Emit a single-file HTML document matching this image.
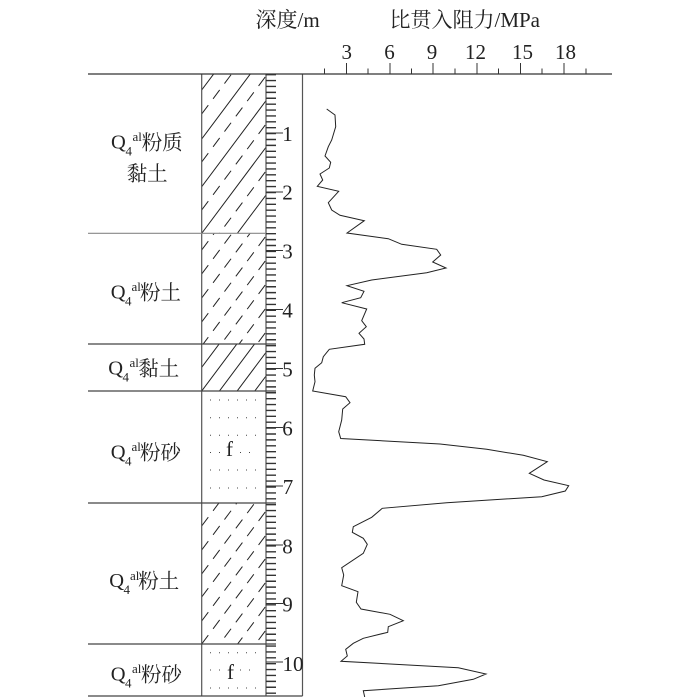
<!DOCTYPE html>
<html><head><meta charset="utf-8"><style>
html,body{margin:0;padding:0;background:#fff}
svg{display:block}
text{font-family:"Liberation Serif","Noto Serif CJK SC",serif;fill:#222;font-size:20.5px}
.n{font-size:21px;text-anchor:middle}
.s{font-size:13px}
</style></head><body>
<svg width="700" height="697" viewBox="0 0 700 697" xmlns="http://www.w3.org/2000/svg">
<defs>
<clipPath id="c1"><rect x="202" y="74" width="64" height="159"/></clipPath>
<clipPath id="c2"><rect x="202" y="233" width="64" height="111"/></clipPath>
<clipPath id="c3"><rect x="202" y="344" width="64" height="47"/></clipPath>
<clipPath id="c4"><rect x="202" y="503" width="64" height="141"/></clipPath>
</defs>
<g fill="none" stroke="#222" stroke-width="1">
<g clip-path="url(#c1)">
<path d="M201.7 90l64.3-86M201.7 139l64.3-86M201.7 186.7l64.3-86M201.7 233.3l64.3-86M201.7 281l64.3-86"/>
<path stroke-dasharray="11 8" d="M201.7 114l64.3-86M201.7 162l64.3-86M201.7 210l64.3-86M201.7 257l64.3-86"/>
</g>
<g clip-path="url(#c2)" stroke-dasharray="11 8">
<path d="M201.7 250l64.3-86M201.7 274l64.3-86M201.7 298l64.3-86M201.7 322l64.3-86M201.7 346l64.3-86M201.7 370l64.3-86M201.7 394l64.3-86M201.7 418l64.3-86"/>
</g>
<g clip-path="url(#c3)">
<path d="M201.7 367.3l64.3-86M201.7 391l64.3-86M201.7 414.7l64.3-86M201.7 438.4l64.3-86M201.7 462l64.3-86"/>
</g>
<g clip-path="url(#c4)" stroke-dasharray="11 8">
<path d="M201.7 526l64.3-86M201.7 550l64.3-86M201.7 574l64.3-86M201.7 597l64.3-86M201.7 621l64.3-86M201.7 644l64.3-86M201.7 668l64.3-86M201.7 692l64.3-86M201.7 716l64.3-86"/>
</g>
</g>
<g stroke="#555" fill="none" stroke-width="1.2">
<path d="M201.7 74V696M266 74V696M302.5 74V696"/>
<path d="M88 74H612" stroke="#333"/>
<path d="M88 233.3H266" stroke="#888"/>
<path d="M88 344H276M88 391H276M88 503H276M88 644H276M88 696H302.5" stroke="#444"/>
</g>
<path d="M271 74V696" stroke="#333" stroke-width="10" stroke-dasharray="1.4 4.49" fill="none"/>
<path d="M266 133H283M266 192H283M266 250.5H283M266 309.5H283M266 368.5H283M266 427.5H283M266 486H283M266 545H283M266 603.5H283M266 662H283" stroke="#333" fill="none"/>
<path d="M324.5 68.5V74M346.5 63V74M368 68.5V74M390 63V74M411.5 68.5V74M433 63V74M455 68.5V74M477 63V74M498.5 68.5V74M520.5 63V74M542 68.5V74M564 63V74M586 68.5V74" stroke="#333" fill="none"/>
<polyline fill="none" stroke="#222" stroke-width="1" points="326.7,109 335,115 335.7,126.7 331.7,140 328.3,146.7 325,156 330.7,162.3 329.3,168 320,174 322.7,180 317.3,186.3 338.7,191.3 328.3,202.7 331.7,210 340,215.3 364.3,220.7 347,233 388.3,238.7 401.7,244.3 436.7,249.3 440.7,255 432.7,262 446,268 426.7,272.7 371.7,280 347,285.7 364,291.3 360.7,297.7 341.7,302.7 366.7,309 361.7,320.7 366.3,326.7 359,333.3 364,339 364.7,344.3 329.3,349.3 323.3,356.7 321.7,362.7 315,368.3 314.3,375 315,381.7 312.7,391 345.7,396.7 350,402.7 342.7,409 341.7,420 338.7,431.7 340.7,438.5 440,444 486.7,449.3 523.3,455.3 547.3,461.7 529.3,473.3 544,480 568.7,485.7 565.3,491 541.7,496.7 446.7,502.7 382.3,508.3 371.7,517.3 353.3,526.7 352.3,532.3 363.3,538.3 367.3,544.3 363.3,553.3 341.7,567.7 343.7,575 341.7,585.7 358,591.7 356.3,602.3 361,609 390,614.3 403.3,620.7 388.3,626.7 387.7,632.3 363.3,638.3 353.3,643.3 345.7,649.3 347.3,656 341,661.3 458.3,667.7 486,674 473.3,679.3 438.3,685.7 363.3,690.7 364.7,697"/>
<path d="M210 400H256M210 417.7H256M210 435.3H256M210 452.5H222M240 452.5H256M210 470H256M210 488H256M210 652.7H256M210 670H222M240 670H256M210 688H256" stroke="#444" stroke-width="1" stroke-dasharray="1 8" fill="none"/>
<text x="226" y="456" style="font-size:21px">f</text>
<text x="227" y="679" style="font-size:21px">f</text>
<text x="255.5" y="27" style="font-size:21px">深度/m</text>
<text x="389.5" y="27" style="font-size:21px">比贯入阻力/MPa</text>
<text class="n" x="346.7" y="59">3</text><text class="n" x="389.5" y="59">6</text><text class="n" x="432" y="59">9</text><text class="n" x="475.5" y="59">12</text><text class="n" x="522.5" y="59">15</text><text class="n" x="565.5" y="59">18</text>
<text class="n" x="287.5" y="141">1</text><text class="n" x="287.5" y="199.5">2</text><text class="n" x="287.5" y="258.5">3</text><text class="n" x="287.5" y="317.5">4</text><text class="n" x="287.5" y="376.5">5</text><text class="n" x="287.5" y="435.5">6</text><text class="n" x="288" y="494">7</text><text class="n" x="287.5" y="553.5">8</text><text class="n" x="287.5" y="611.5">9</text><text class="n" x="293" y="671">10</text>
<text x="111" y="148.5">Q</text><text class="s" x="125.5" y="155.5">4</text><text class="s" x="132.5" y="141">al</text><text x="141.7" y="149.5">粉质</text>
<text x="126.7" y="180.5">黏土</text>
<text x="110.7" y="298.5">Q</text><text class="s" x="125" y="305.5">4</text><text class="s" x="131.5" y="291">al</text><text x="140" y="299.5">粉土</text>
<text x="108.3" y="374.5">Q</text><text class="s" x="122.5" y="381.5">4</text><text class="s" x="129.5" y="367">al</text><text x="138.3" y="375.5">黏土</text>
<text x="110.7" y="458.5">Q</text><text class="s" x="125" y="465.5">4</text><text class="s" x="131.5" y="451">al</text><text x="140" y="459.5">粉砂</text>
<text x="109.3" y="587">Q</text><text class="s" x="123.5" y="594">4</text><text class="s" x="130" y="580">al</text><text x="138.3" y="588">粉土</text>
<text x="110.7" y="680.5">Q</text><text class="s" x="125" y="687.5">4</text><text class="s" x="132" y="673">al</text><text x="141" y="681.5">粉砂</text>
</svg>
</body></html>
